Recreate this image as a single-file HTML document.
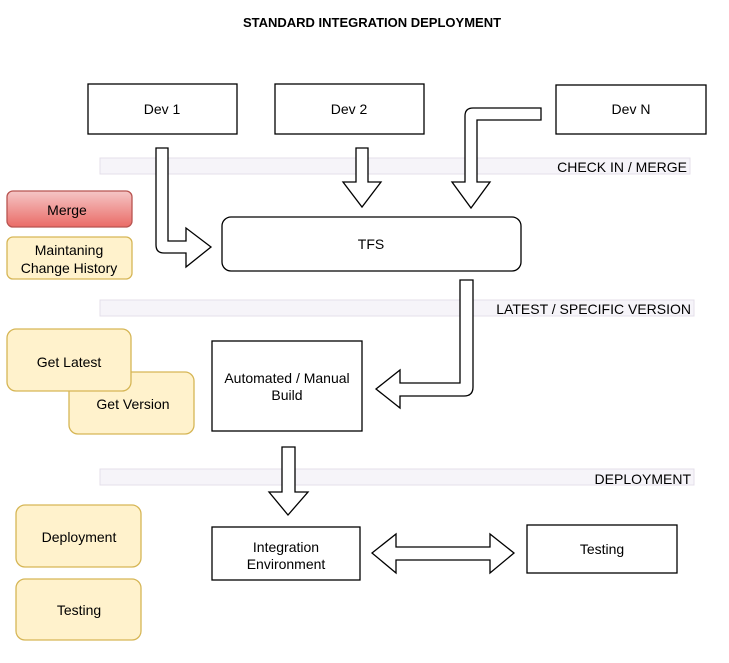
<!DOCTYPE html>
<html><head><meta charset="utf-8"><style>
html,body{margin:0;padding:0;background:#fff;}
svg{display:block;font-family:"Liberation Sans",Arial,sans-serif;}
</style></head><body>
<svg width="729" height="663" viewBox="0 0 729 663" xmlns="http://www.w3.org/2000/svg">
<defs>
<linearGradient id="rg" x1="0" y1="0" x2="0" y2="1"><stop offset="0" stop-color="#f5c6c6"/><stop offset="1" stop-color="#ea6b66"/></linearGradient>
</defs>
<text x="372" y="27" font-size="13" font-weight="bold" text-anchor="middle">STANDARD INTEGRATION DEPLOYMENT</text>
<!-- bands -->
<rect x="100" y="158" width="590" height="16" fill="#f6f4f9" stroke="#e4dfea"/>
<text x="687" y="172" font-size="14" text-anchor="end">CHECK IN / MERGE</text>
<rect x="100" y="300" width="594" height="16" fill="#f6f4f9" stroke="#e4dfea"/>
<text x="691" y="314" font-size="14" text-anchor="end">LATEST / SPECIFIC VERSION</text>
<rect x="100" y="469" width="594" height="16" fill="#f6f4f9" stroke="#e4dfea"/>
<text x="691" y="484" font-size="14" text-anchor="end">DEPLOYMENT</text>
<g fill="#fff" stroke="#000" stroke-width="1.3" font-size="14">
<rect x="88" y="84" width="149" height="50"/>
<rect x="275" y="84" width="149" height="50"/>
<rect x="556" y="85" width="150" height="49"/>
<rect x="222" y="217" width="299" height="54" rx="9"/>
<rect x="212" y="341" width="150" height="90"/>
<rect x="212" y="527" width="148" height="53"/>
<rect x="527" y="525" width="150" height="48"/>
<!-- arrows -->
<path d="M156 148 H168 V241 H186 V228 L211 247 L186 267 V253 H164 Q156 253 156 245 Z"/>
<path d="M356 148 H368 V182 H381 L362 207 L343 182 H356 Z"/>
<path d="M541 108 V120 H477 V182 H490 L471 208 L452 182 H465 V116 Q465 108 473 108 Z"/>
<path d="M460 280 H473 V387 Q473 396 464 396 H400 V408 L376 389 L400 370 V383 H460 Z"/>
<path d="M282 447 H295 V492 H308 L288 515 L269 492 H282 Z"/>
<path d="M372 553 L396 534 V547 H490 V534 L514 553 L490 573 V560 H396 V573 Z"/>
</g>
<g font-size="14" text-anchor="middle" fill="#000">
<text x="162" y="114">Dev 1</text>
<text x="349" y="114">Dev 2</text>
<text x="631" y="114">Dev N</text>
<text x="371" y="249">TFS</text>
<text x="287" y="383">Automated / Manual</text>
<text x="287" y="400">Build</text>
<text x="286" y="552">Integration</text>
<text x="286" y="569">Environment</text>
<text x="602" y="554">Testing</text>
</g>
<!-- left side notes -->
<g stroke-width="1.3" font-size="14" text-anchor="middle">
<rect x="7" y="191" width="125" height="36" rx="6" fill="url(#rg)" stroke="#b85450"/>
<rect x="7" y="237" width="125" height="42" rx="6" fill="#fff2cc" stroke="#d6b656"/>
<rect x="69" y="372" width="125" height="62" rx="9" fill="#fff2cc" stroke="#d6b656"/>
<rect x="7" y="329" width="124" height="62" rx="9" fill="#fff2cc" stroke="#d6b656"/>
<rect x="16" y="505" width="125" height="62" rx="9" fill="#fff2cc" stroke="#d6b656"/>
<rect x="16" y="579" width="125" height="61" rx="9" fill="#fff2cc" stroke="#d6b656"/>
<text x="67" y="215">Merge</text>
<text x="69" y="255">Maintaning</text>
<text x="69" y="273">Change History</text>
<text x="69" y="367">Get Latest</text>
<text x="133" y="409">Get Version</text>
<text x="79" y="542">Deployment</text>
<text x="79" y="615">Testing</text>
</g>
</svg>
</body></html>
